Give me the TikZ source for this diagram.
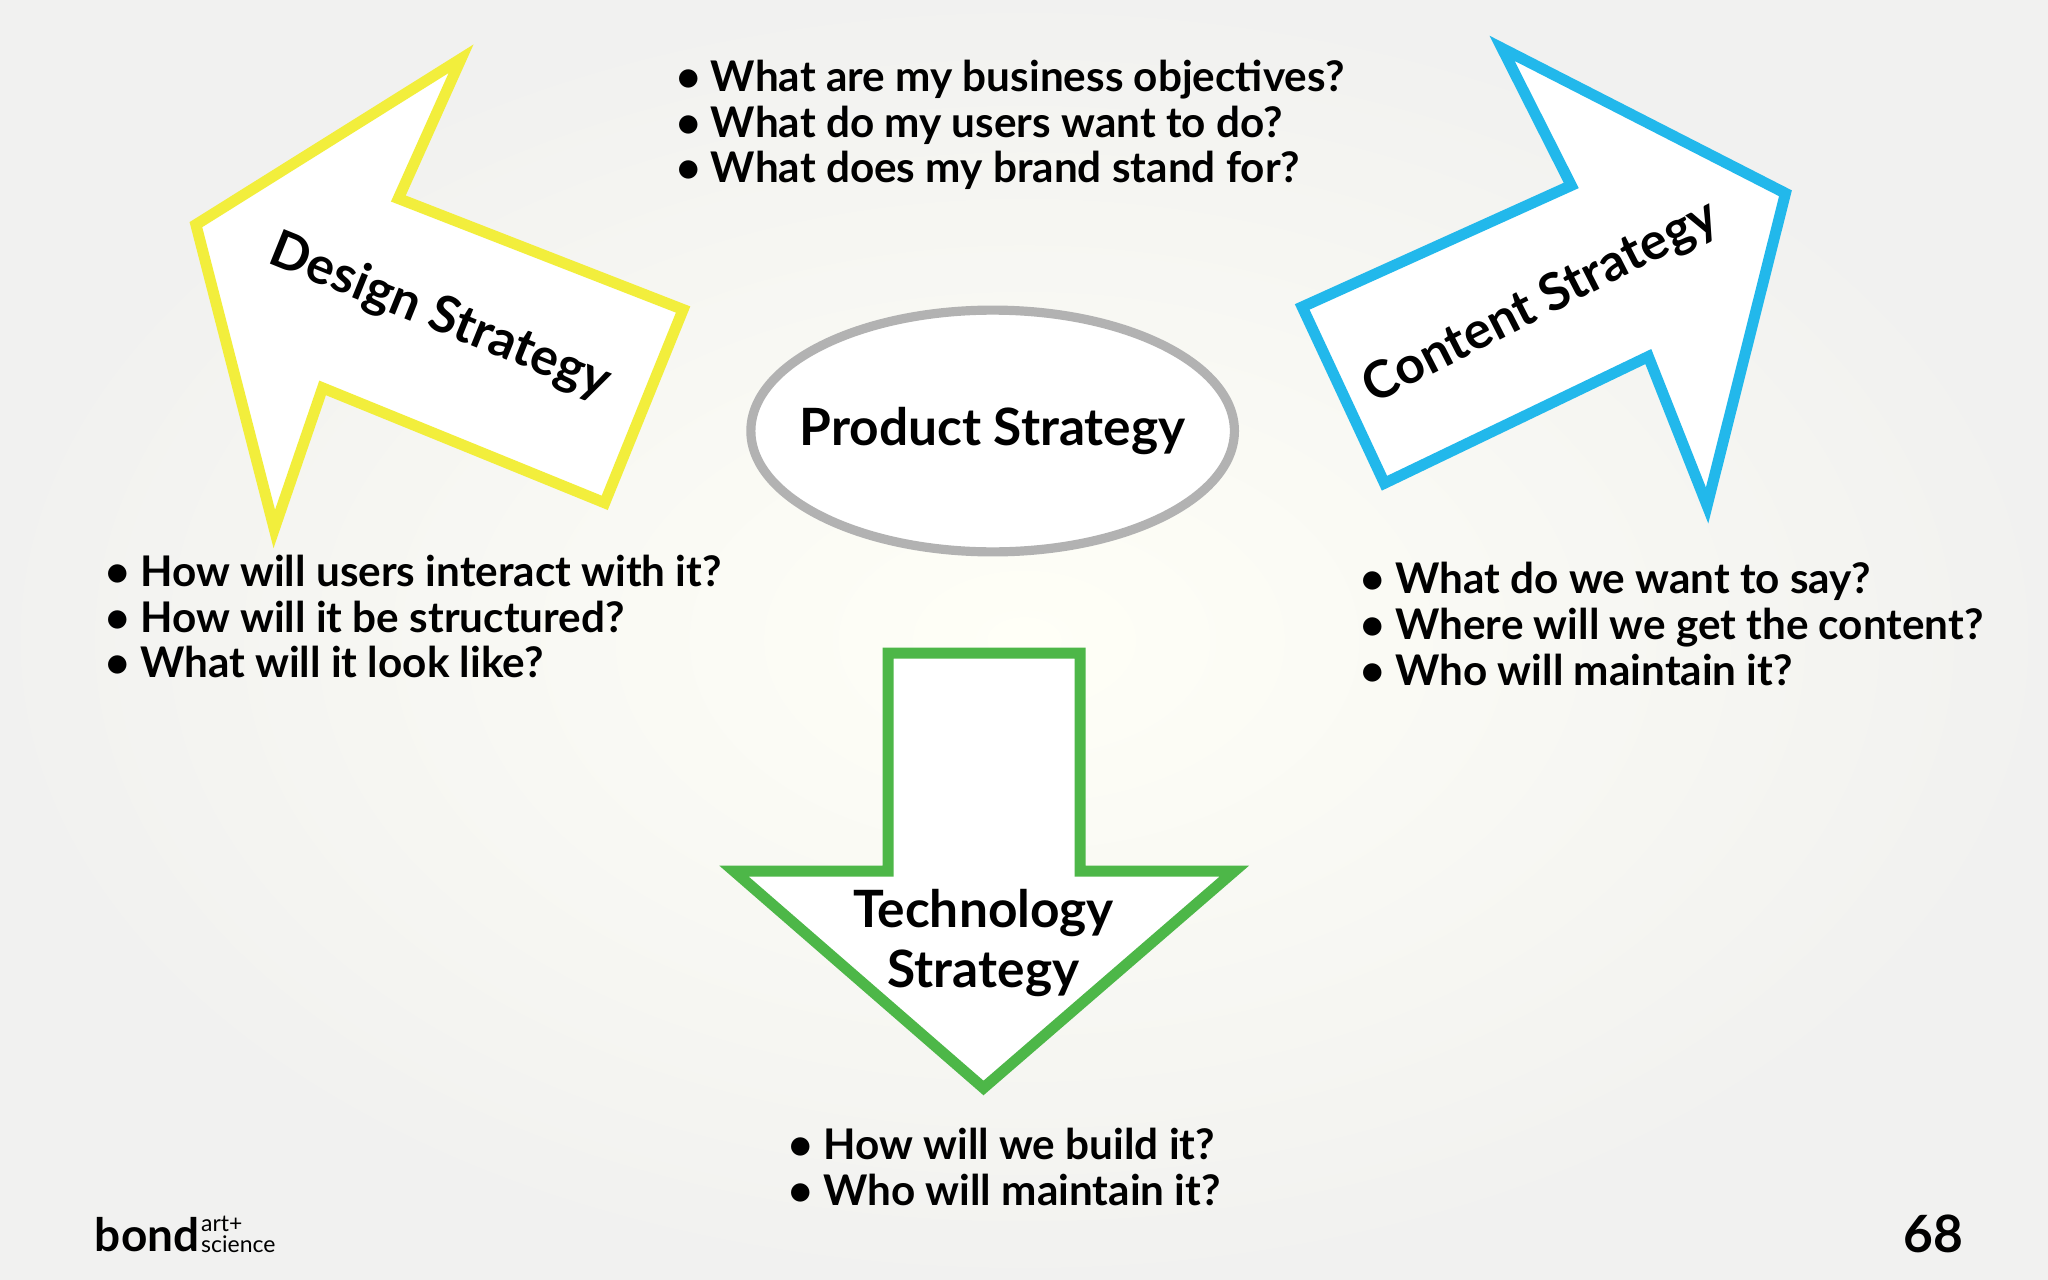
\documentclass[tikz,border=0pt]{standalone}
\usepackage{fontspec}
\setmainfont{Lato}
\usetikzlibrary{shapes.geometric}
\begin{document}
\begin{tikzpicture}[x=0.01cm,y=-0.01cm,
  arr/.style={fill=white,line width=2.4pt,line join=miter},
  q/.style={align=left,anchor=north west,font=\fontsize{9.2}{10}\selectfont\bfseries,inner sep=0pt},
  lbl/.style={font=\fontsize{11.2}{13}\selectfont\bfseries,align=center}]
\path[use as bounding box,inner color=white!60!yellow!8,outer color=yellow!10!black!6] (0,0) rectangle (1568,980);
\definecolor{yel}{HTML}{F2EE3C}\definecolor{blu}{HTML}{22B8EB}\definecolor{grn}{HTML}{4DB748}
\draw[arr,draw=yel] (353,45)--(305,152)--(523,237)--(463,385)--(247,297)--(210,405)--(150,172)--cycle;
\draw[arr,draw=blu] (1150,37)--(1367,148)--(1307,387)--(1262,273)--(1060,370)--(997,235)--(1203,142)--cycle;
\draw[arr,draw=grn] (680,500)--(827,500)--(827,667)--(945,667)--(753,833)--(562,667)--(680,667)--cycle;
\node[draw=black!30,line width=2pt,fill=white,ellipse,minimum width=3.7cm,minimum height=1.85cm] (prod) at (760,330) {};
\node[lbl] at (prod) {Product Strategy};
\node[lbl,rotate=-22] (ds) at (337,243) {Design Strategy};
\node[lbl,rotate=27] (cs) at (1180,232) {Content Strategy};
\node[lbl,font=\fontsize{11.2}{13}\selectfont\bfseries] (ts) at (753,722) {Technology\\Strategy};
\node[q] (q1) at (517,45) {• What are my business objectives?\\• What do my users want to do?\\• What does my brand stand for?};
\node[q] (q2) at (80,424) {• How will users interact with it?\\• How will it be structured?\\• What will it look like?};
\node[q] (q3) at (1041,430) {• What do we want to say?\\• Where will we get the content?\\• Who will maintain it?};
\node[q] (q4) at (603,863) {• How will we build it?\\• Who will maintain it?};
\node[anchor=west,inner sep=0pt,font=\fontsize{10}{10}\selectfont\bfseries] (logo) at (72,945) {bond};
\node[anchor=west,inner sep=0pt,align=left,font=\fontsize{5}{4.5}\selectfont] (logo2) at (logo.east) {art+\\science};
\node[font=\fontsize{11.2}{13}\selectfont\bfseries] (pg) at (1480,945) {68};
\end{tikzpicture}
\end{document}
